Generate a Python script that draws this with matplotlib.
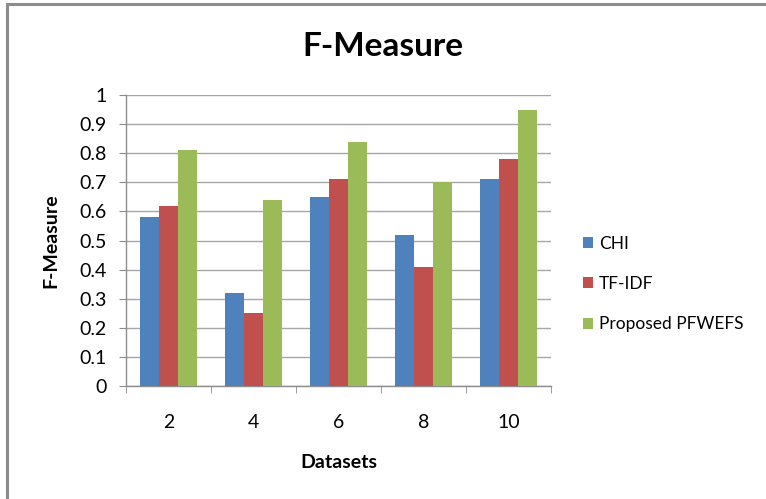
import matplotlib
matplotlib.use("Agg")
import matplotlib.pyplot as plt
import numpy as np
from matplotlib.patches import Rectangle, Patch

plt.rcParams['font.family'] = ['Lato', 'DejaVu Sans']

datasets = ["2", "4", "6", "8", "10"]
chi = [0.58, 0.32, 0.65, 0.52, 0.71]
tfidf = [0.62, 0.25, 0.71, 0.41, 0.78]
proposed = [0.81, 0.64, 0.84, 0.70, 0.95]
series_names = ["CHI", "TF-IDF", "Proposed PFWEFS"]
colors = ["#4F81BD", "#C0504D", "#9BBB59"]

fig = plt.figure(figsize=(7.66, 4.99), dpi=100)
ax = fig.add_axes([0.1645, 0.2265, 0.5548, 0.583])

# outer chart frame
fig.patches.append(Rectangle((7 / 766, -0.05), 1.2, 1 - 4 / 499 + 0.05,
                             transform=fig.transFigure, fill=False,
                             edgecolor="#8c8c8c", linewidth=2.2))

x = np.arange(len(datasets))
w = 0.224
for i, vals in enumerate([chi, tfidf, proposed]):
    ax.bar(x + (i - 1) * w, vals, width=w, color=colors[i], zorder=3,
           label=series_names[i])

ax.set_xlim(-0.5, len(datasets) - 0.5)
ax.set_ylim(0, 1)
ax.set_yticks(np.arange(0, 1.01, 0.1))
ax.set_yticklabels(["0", "0.1", "0.2", "0.3", "0.4", "0.5", "0.6", "0.7", "0.8", "0.9", "1"])
ax.yaxis.grid(True, color="#a6a6a6", linewidth=1.0, zorder=0)
ax.set_axisbelow(True)

ax.set_xticks(x)
ax.set_xticklabels(datasets)
ax.set_xticks(np.arange(-0.5, len(datasets), 1), minor=True)
ax.tick_params(axis="x", which="major", length=0, pad=20, labelsize=14)
ax.tick_params(axis="x", which="minor", length=5, color="#8c8c8c", direction="out")
ax.tick_params(axis="y", length=5, color="#8c8c8c", labelsize=14, pad=9)

for s in ["top", "right"]:
    ax.spines[s].set_visible(False)
for s in ["left", "bottom"]:
    ax.spines[s].set_color("#8c8c8c")
    ax.spines[s].set_linewidth(1.0)

ax.set_xlabel("Datasets", fontsize=14, fontweight="bold", labelpad=17)
ax.set_ylabel("F-Measure", fontsize=14, fontweight="bold", labelpad=14)
fig.text(0.5, 1 - 47 / 499, "F-Measure", ha="center", va="center",
         fontsize=24, fontweight="bold")

handles = [Patch(facecolor=c) for c in colors]
fig.legend(handles, series_names, loc="center left",
           bbox_to_anchor=(567 / 766, 1 - 284 / 499), frameon=False,
           fontsize=12.5, handlelength=0.6, handleheight=0.6,
           handletextpad=0.35, labelspacing=1.4)

fig.savefig("out.png", dpi=100)
